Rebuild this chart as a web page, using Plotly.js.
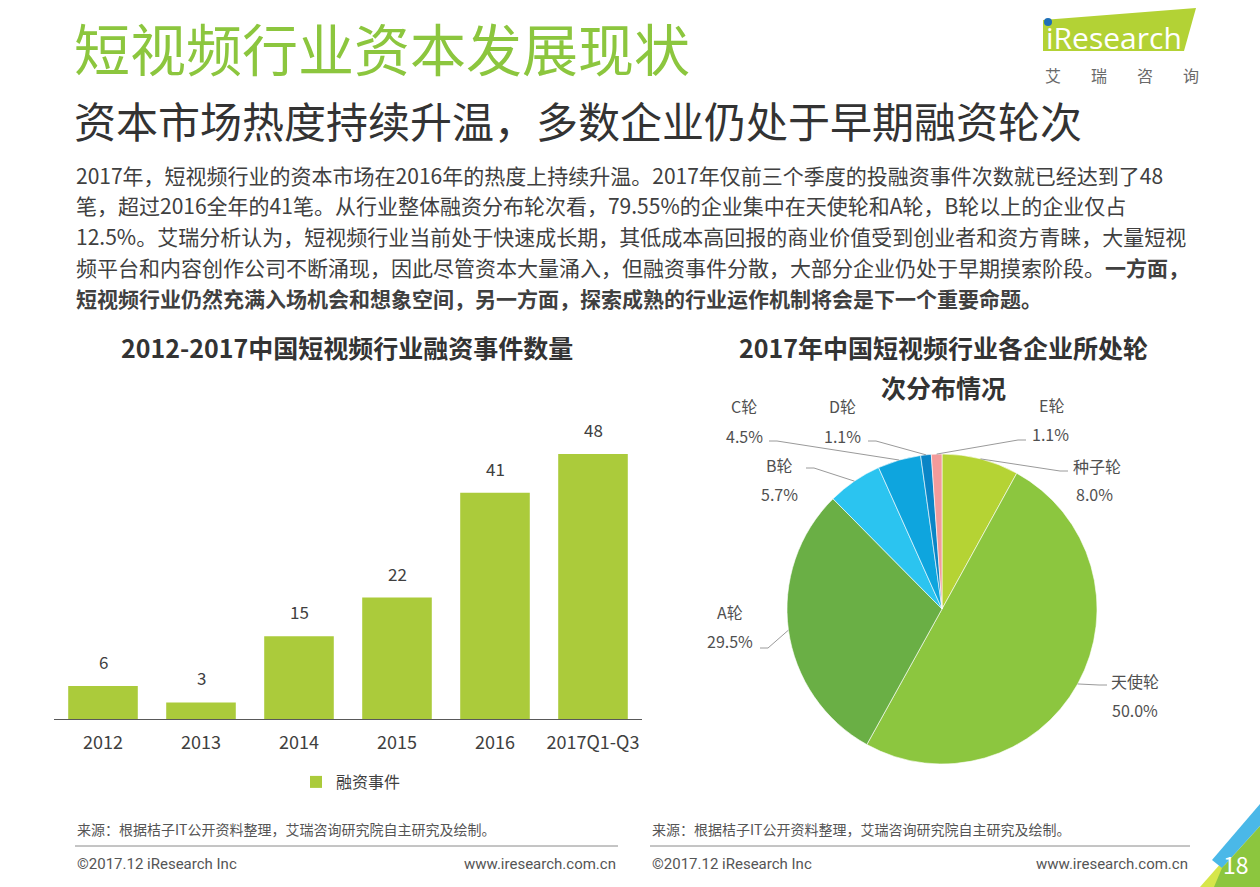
<!DOCTYPE html>
<html>
<head>
<meta charset="utf-8">
<script src="https://cdn.plot.ly/plotly-3.0.1.min.js"></script>
<style>
html,body{margin:0;padding:0;background:#fff;}
#chart{width:1260px;height:887px;}
</style>
</head>
<body>
<div id="chart"></div>
<script>
// ---------------- DATA ----------------
const barCategories = ['2012', '2013', '2014', '2015', '2016', '2017Q1-Q3'];
const barValues = [6, 3, 15, 22, 41, 48];
const barSeriesName = '融资事件';

const pieLabels = ['种子轮', '天使轮', 'A轮', 'B轮', 'C轮', 'D轮', 'E轮'];
const pieValues = [8.0, 50.0, 29.5, 5.7, 4.5, 1.1, 1.1];

const pageTitle = '短视频行业资本发展现状';
const pageSubtitle = '资本市场热度持续升温，多数企业仍处于早期融资轮次';
const bodyLines = [
  '2017年，短视频行业的资本市场在2016年的热度上持续升温。2017年仅前三个季度的投融资事件次数就已经达到了48',
  '笔，超过2016全年的41笔。从行业整体融资分布轮次看，79.55%的企业集中在天使轮和A轮，B轮以上的企业仅占',
  '12.5%。艾瑞分析认为，短视频行业当前处于快速成长期，其低成本高回报的商业价值受到创业者和资方青睐，大量短视',
  '频平台和内容创作公司不断涌现，因此尽管资本大量涌入，但融资事件分散，大部分企业仍处于早期摸索阶段。<b>一方面，</b>',
  '<b>短视频行业仍然充满入场机会和想象空间，另一方面，探索成熟的行业运作机制将会是下一个重要命题。</b>'
];
const barTitle = '2012-2017中国短视频行业融资事件数量';
const pieTitleLines = ['2017年中国短视频行业各企业所处轮', '次分布情况'];
const sourceText = '来源：根据桔子IT公开资料整理，艾瑞咨询研究院自主研究及绘制。';
const copyrightText = '©2017.12 iResearch Inc';
const siteText = 'www.iresearch.com.cn';
const pageNumber = '18';

// ---------------- LAYOUT / STYLE ----------------
const W = 1260, H = 887;
const X = px => px / W;
const Y = py => 1 - py / H;
const FONT = '"Noto Sans CJK SC", "Noto Sans", sans-serif';
const GREEN = '#8cc63e';
const BAR_COLOR = '#abcb3b';
const pieColors = ['#b5d334', '#8cc63f', '#6aaf45', '#2bc4f0', '#0ea5de', '#0a85c6', '#f29b9b'];

// pie geometry (pixels)
const PIE_CX = 942, PIE_CY = 609, PIE_R = 155;
// pie label placement (pixels): name center, pct center, leader start
const pieLabelPlacement = [
  {name: [1097, 466], pct: [1094, 494], start: [1068, 471]},
  {name: [1135, 681], pct: [1135, 710], start: [1107, 685]},
  {name: [730, 612],  pct: [730, 641],  start: [760, 648]},
  {name: [779, 465],  pct: [779, 494],  start: [806, 468]},
  {name: [744, 406],  pct: [744, 436],  start: [769, 441]},
  {name: [843, 406],  pct: [843, 436],  start: [868, 441]},
  {name: [1051, 405], pct: [1050, 434], start: [1026, 440]}
];

// bar axis geometry (pixels)
const BAR_X0 = 54, BAR_X1 = 642, BAR_BASE = 719, BAR_TOP = 430, BAR_PX_PER_UNIT = 5.52;

const annotations = [];
const shapes = [];
function txt(text, px, py, size, color, opts) {
  annotations.push(Object.assign({
    text: text, x: X(px), y: Y(py), xref: 'paper', yref: 'paper',
    showarrow: false, xanchor: 'center', yanchor: 'middle',
    font: {family: FONT, size: size, color: color}
  }, opts || {}));
}

// Titles
txt(pageTitle, 72, 47, 56, GREEN, {xanchor: 'left'});
txt(pageSubtitle, 72, 119, 42, '#333333', {xanchor: 'left'});
const bodyY = [175, 205, 236, 267, 298];
bodyLines.forEach((l, i) => txt(l, 74, bodyY[i], 21, '#404040', {xanchor: 'left'}));

txt('<b>' + barTitle + '</b>', 347, 347, 25, '#333333');
txt('<b>' + pieTitleLines[0] + '</b>', 943, 347, 25, '#333333');
txt('<b>' + pieTitleLines[1] + '</b>', 943, 387, 25, '#333333');

// bar value labels (data coordinates; x is the category index)
barCategories.forEach((c, i) => {
  annotations.push({
    text: String(barValues[i]), x: i, y: barValues[i], xref: 'x', yref: 'y',
    showarrow: false, yanchor: 'bottom', yshift: 10,
    font: {family: FONT, size: 17, color: '#404040'}
  });
});

// pie labels + leader lines (angles computed from data)
const total = pieValues.reduce((a, b) => a + b, 0);
let cum = 0;
pieValues.forEach((v, i) => {
  const mid = (cum + v / 2) / total * 2 * Math.PI;
  cum += v;
  const ex = PIE_CX + PIE_R * Math.sin(mid);
  const ey = PIE_CY - PIE_R * Math.cos(mid);
  const p = pieLabelPlacement[i];
  txt(pieLabels[i], p.name[0], p.name[1], 16, '#505050');
  txt(v.toFixed(1) + '%', p.pct[0], p.pct[1], 16, '#505050');
  const dir = ex > p.start[0] ? 1 : -1;
  const sx2 = p.start[0] + dir * 8;
  shapes.push({
    type: 'path', xref: 'paper', yref: 'paper',
    path: `M ${X(p.start[0])} ${Y(p.start[1])} L ${X(sx2)} ${Y(p.start[1])} L ${X(ex)} ${Y(ey)}`,
    line: {color: '#9a9a9a', width: 1}
  });
});

// Logo
shapes.push({type: 'path', xref: 'paper', yref: 'paper',
  path: `M ${X(1043)} ${Y(20)} L ${X(1196)} ${Y(8)} L ${X(1184)} ${Y(51)} L ${X(1043)} ${Y(51)} Z`,
  fillcolor: '#b3d235', line: {width: 0}});
shapes.push({type: 'circle', xref: 'paper', yref: 'paper',
  x0: X(1044), x1: X(1052), y0: Y(26), y1: Y(18), fillcolor: '#1e6fb8', line: {width: 0}});
txt('iResearch', 1114, 37, 30, '#ffffff', {font: {family: '"Open Sans", "Noto Sans", sans-serif', size: 30, color: '#ffffff'}});
['艾', '瑞', '咨', '询'].forEach((c, i) => txt(c, 1053 + i * 46, 75, 16, '#6a6a6a'));

// Footer
[[75, 618], [650, 1190]].forEach(([x0, x1]) => {
  txt(sourceText, x0, 829, 14, '#555555', {xanchor: 'left'});
  shapes.push({type: 'line', xref: 'paper', yref: 'paper', x0: X(x0), x1: X(x1), y0: Y(846), y1: Y(846),
    line: {color: '#8a8a8a', width: 1}});
  txt(copyrightText, x0, 864, 14, '#555555', {xanchor: 'left', font: {family: '"Liberation Sans Narrow", "Roboto", sans-serif', size: 15, color: '#555555'}});
  txt(siteText, x1, 864, 14, '#555555', {xanchor: 'right', font: {family: '"Liberation Sans Narrow", "Roboto", sans-serif', size: 15, color: '#555555'}});
});

// Corner decoration
shapes.push({type: 'path', xref: 'paper', yref: 'paper',
  path: `M ${X(1200)} ${Y(887)} L ${X(1222)} ${Y(862)} L ${X(1240)} ${Y(887)} Z`, fillcolor: '#d6e64a', line: {width: 0}});
shapes.push({type: 'path', xref: 'paper', yref: 'paper',
  path: `M ${X(1212)} ${Y(860)} L ${X(1260)} ${Y(804)} L ${X(1260)} ${Y(826)} L ${X(1222)} ${Y(868)} Z`, fillcolor: '#4ab8e8', line: {width: 0}});
shapes.push({type: 'path', xref: 'paper', yref: 'paper',
  path: `M ${X(1214)} ${Y(887)} L ${X(1222)} ${Y(868)} L ${X(1260)} ${Y(826)} L ${X(1260)} ${Y(887)} Z`, fillcolor: '#8cc63e', line: {width: 0}});
txt(pageNumber, 1236, 864, 23, '#ffffff');

// ---------------- TRACES ----------------
const barTrace = {
  type: 'bar', x: barCategories, y: barValues, name: barSeriesName,
  marker: {color: BAR_COLOR}, xaxis: 'x', yaxis: 'y', hoverinfo: 'x+y'
};
const pieTrace = {
  type: 'pie', labels: pieLabels, values: pieValues, sort: false,
  direction: 'clockwise', rotation: 0, textinfo: 'none', showlegend: false,
  marker: {colors: pieColors, line: {color: '#ffffff', width: 0.6}},
  domain: {x: [X(PIE_CX - PIE_R), X(PIE_CX + PIE_R)], y: [Y(PIE_CY + PIE_R), Y(PIE_CY - PIE_R)]}
};

const layout = {
  width: W, height: H,
  margin: {l: 0, r: 0, t: 0, b: 0},
  paper_bgcolor: '#ffffff', plot_bgcolor: 'rgba(0,0,0,0)',
  font: {family: FONT, color: '#404040'},
  bargap: 0.29,
  showlegend: true,
  legend: {x: X(296), y: Y(782), xanchor: 'left', yanchor: 'middle', orientation: 'h',
    font: {family: FONT, size: 16, color: '#404040'}, bgcolor: 'rgba(0,0,0,0)'},
  xaxis: {type: 'category', categoryorder: 'array', categoryarray: barCategories,
    range: [-0.5, barCategories.length - 0.5], autorange: false,
    domain: [X(BAR_X0), X(BAR_X1)], showline: true, linecolor: '#595959', linewidth: 1,
    ticks: '', showgrid: false, zeroline: false, fixedrange: true,
    tickfont: {family: FONT, size: 18, color: '#404040'}, ticklabelstandoff: 7},
  yaxis: {domain: [Y(BAR_BASE), Y(BAR_TOP)], range: [0, (BAR_BASE - BAR_TOP) / BAR_PX_PER_UNIT],
    visible: false, showgrid: false, zeroline: false, fixedrange: true},
  annotations: annotations,
  shapes: shapes
};

Plotly.newPlot('chart', [barTrace, pieTrace], layout, {displayModeBar: false, staticPlot: true});
</script>
</body>
</html>
